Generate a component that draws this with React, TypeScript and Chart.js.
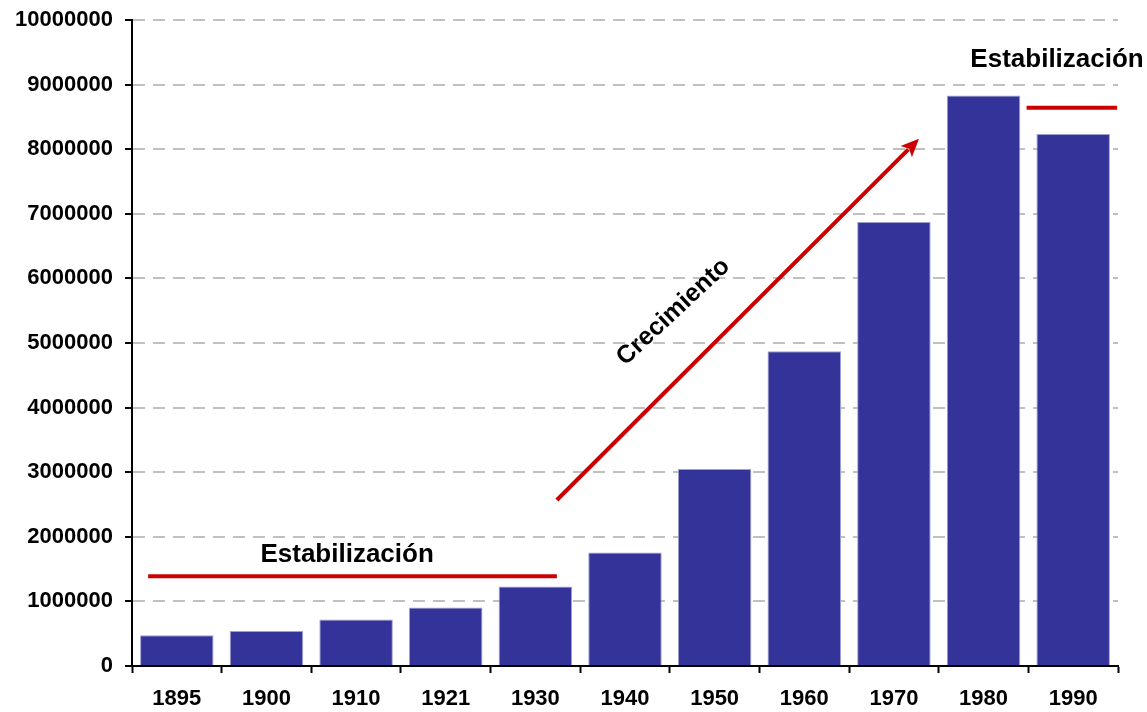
import React, { useEffect, useRef } from "react";
import { Chart, registerables } from "chart.js";

Chart.register(...registerables);

const years = ["1895", "1900", "1910", "1921", "1930", "1940", "1950", "1960", "1970", "1980", "1990"];
const population = [476413, 541516, 720753, 906063, 1229576, 1757530, 3050442, 4870876, 6874165, 8831079, 8235744];

const annotationLabels = ["Estabilización", "Crecimiento", "Estabilización"];
// annotation anchors in data coordinates: [categoryIndex, value]
const lowerLine = [[-0.32, 1390000], [4.24, 1390000]];
const lowerText = [1.9, 1610000];
const growthArrow = [[4.24, 2570000], [8.28, 8160000]];
const growthText = [5.54, 5480000];
const upperLine = [[9.48, 8640000], [10.49, 8640000]];
const upperText = [9.82, 9270000];

const FONT = "'Liberation Sans', Arial, sans-serif";
const RED = "#cc0000";

const annotationPlugin = {
  id: "annotations",
  afterDatasetsDraw(chart: any) {
    const { ctx, scales } = chart;
    const x = scales.x, y = scales.y;
    const px = (p: number[]) => [x.getPixelForValue(p[0]), y.getPixelForValue(p[1])];
    ctx.save();
    ctx.strokeStyle = RED;
    ctx.fillStyle = RED;
    ctx.lineCap = "butt";
    for (const line of [lowerLine, upperLine]) {
      const a = px(line[0]), b = px(line[1]);
      ctx.lineWidth = 4;
      ctx.beginPath();
      ctx.moveTo(a[0], a[1]);
      ctx.lineTo(b[0], b[1]);
      ctx.stroke();
    }
    const s = px(growthArrow[0]), e = px(growthArrow[1]);
    const ang = Math.atan2(e[1] - s[1], e[0] - s[0]);
    const headLen = 18, headW = 8;
    const bx = e[0] - headLen * Math.cos(ang), by = e[1] - headLen * Math.sin(ang);
    ctx.lineWidth = 4;
    ctx.beginPath();
    ctx.moveTo(s[0], s[1]);
    ctx.lineTo(bx + 3 * Math.cos(ang), by + 3 * Math.sin(ang));
    ctx.stroke();
    ctx.beginPath();
    ctx.moveTo(e[0], e[1]);
    ctx.lineTo(bx + headW * Math.sin(ang), by - headW * Math.cos(ang));
    ctx.lineTo(bx + 4 * Math.cos(ang), by + 4 * Math.sin(ang));
    ctx.lineTo(bx - headW * Math.sin(ang), by + headW * Math.cos(ang));
    ctx.closePath();
    ctx.fill();
    ctx.fillStyle = "#000";
    ctx.font = `bold 26px ${FONT}`;
    ctx.textAlign = "center";
    ctx.textBaseline = "alphabetic";
    const lt = px(lowerText);
    ctx.fillText(annotationLabels[0], lt[0], lt[1]);
    const ut = px(upperText);
    ctx.fillText(annotationLabels[2], ut[0], ut[1]);
    const gt = px(growthText);
    ctx.save();
    ctx.translate(gt[0], gt[1]);
    ctx.rotate((-43 * Math.PI) / 180);
    ctx.font = `bold 25px ${FONT}`;
    ctx.textBaseline = "middle";
    ctx.fillText(annotationLabels[1], 0, 0);
    ctx.restore();
    ctx.restore();
  },
};

export default function App() {
  const canvasRef = useRef<HTMLCanvasElement>(null);
  useEffect(() => {
    const chart = new Chart(canvasRef.current as HTMLCanvasElement, {
      type: "bar",
      data: {
        labels: years,
        datasets: [
          {
            data: population,
            backgroundColor: "#333399",
            borderColor: "#a0a0d0",
            borderWidth: 1,
            barPercentage: 0.82,
            categoryPercentage: 1,
          },
        ],
      },
      options: {
        animation: false,
        responsive: true,
        maintainAspectRatio: false,
        layout: { padding: { top: 20, right: 29, left: 0, bottom: 0 } },
        plugins: { legend: { display: false }, tooltip: { enabled: false } },
        scales: {
          x: {
            offset: true,
            grid: {
              offset: true,
              drawOnChartArea: false,
              drawTicks: true,
              tickLength: 7,
              tickColor: "#000",
              tickWidth: 2,
            },
            border: { display: true, color: "#000", width: 2 },
            ticks: {
              color: "#000",
              font: { family: FONT, size: 22, weight: "bold" },
              padding: 13,
              maxRotation: 0,
              autoSkip: false,
            },
            afterFit: (scale: any) => {
              scale.height = 46;
            },
          },
          y: {
            min: 0,
            max: 10000000,
            ticks: {
              stepSize: 1000000,
              color: "#000",
              font: { family: FONT, size: 22, weight: "bold" },
              padding: 12,
              callback: (v: any) => String(v),
            },
            grid: {
              color: "#c0c0c0",
              lineWidth: 2,
              drawTicks: true,
              tickLength: 7,
              tickColor: "#000",
              tickWidth: 2,
              tickBorderDash: [],
            },
            border: { display: true, color: "#000", width: 2, dash: [12, 8] },
            afterFit: (scale: any) => {
              scale.width = 132;
              scale.paddingTop = 0;
              scale.paddingBottom = 0;
            },
          },
        },
      } as any,
      plugins: [annotationPlugin],
    });
    return () => chart.destroy();
  }, []);
  return (
    <div style={{ position: "fixed", left: 0, top: 0, width: 1147, height: 712, background: "#fff" }}>
      <canvas ref={canvasRef} />
    </div>
  );
}
